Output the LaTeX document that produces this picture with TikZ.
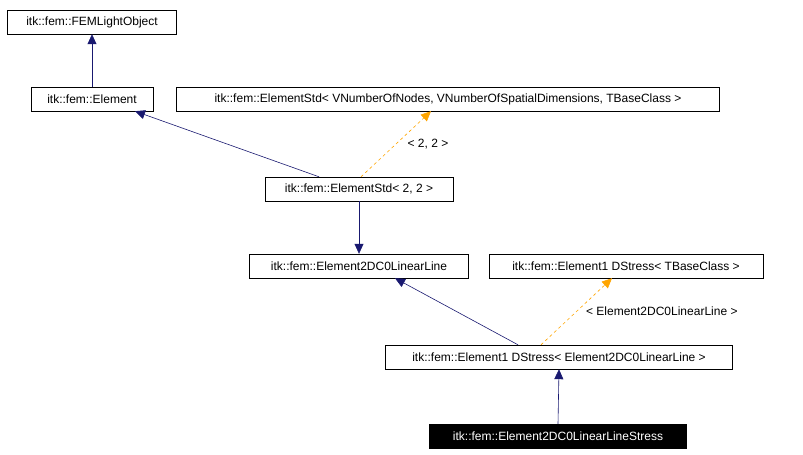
\documentclass[tikz,border=0pt]{standalone}
\usepackage{fontspec}
\setmainfont{Liberation Sans}
\usetikzlibrary{positioning,arrows.meta}
\definecolor{navy}{HTML}{191970}
\definecolor{tmplorange}{HTML}{FFA500}
\begin{document}
\begin{tikzpicture}[x=1pt,y=-1pt,
classnode/.style={rectangle, draw=black, fill=white, font=\fontsize{12}{14}\selectfont, minimum height=24pt, inner xsep=0pt},
leafnode/.style={classnode, fill=black, text=white},
inherit/.style={navy, semithick, -{Triangle[length=10pt,width=9pt]}},
tmpl/.style={tmplorange, semithick, dashed, -{Triangle[length=10pt,width=9pt]}},
lbl/.style={font=\fontsize{12}{14}\selectfont},
]
\useasboundingbox (0,0) rectangle (803,455);
%Nodes
\node[classnode, minimum width=169pt] (FEMLightObject)  at (92,22)  {itk::fem::FEMLightObject};
\node[classnode, minimum width=122pt] (Element)         at (92,99)  {itk::fem::Element};
\node[classnode, minimum width=543pt] (ElementStdT)     at (448,99) {itk::fem::ElementStd< VNumberOfNodes, VNumberOfSpatialDimensions, TBaseClass >};
\node[classnode, minimum width=188pt] (ElementStd22)    at (359,189) {itk::fem::ElementStd< 2, 2 >};
\node[classnode, minimum width=219pt] (LinearLine)      at (359,266) {itk::fem::Element2DC0LinearLine};
\node[classnode, minimum width=274pt] (StressT)         at (626,266) {itk::fem::Element1 DStress< TBaseClass >};
\node[classnode, minimum width=347pt] (StressLL)        at (559,357) {itk::fem::Element1 DStress< Element2DC0LinearLine >};
\node[leafnode, minimum width=257pt]  (LineStress)      at (558,436) {itk::fem::Element2DC0LinearLineStress};

%Lines
\draw[inherit] (Element.north) -- (FEMLightObject.south);
\draw[inherit] ([xshift=-40pt]ElementStd22.north) -- ([xshift=43pt]Element.south);
\draw[tmpl] ([xshift=2pt]ElementStd22.north) -- ([xshift=-17pt]ElementStdT.south) node[lbl, black, pos=0.5, right=8pt] {< 2, 2 >};
\draw[inherit] (ElementStd22.south) -- (LinearLine.north);
\draw[inherit] ([xshift=-41pt]StressLL.north) -- ([xshift=36pt]LinearLine.south);
\draw[tmpl] ([xshift=-18pt]StressLL.north) -- ([xshift=-14pt]StressT.south) node[lbl, black, pos=0.5, right=6pt] {< Element2DC0LinearLine >};
\draw[inherit] (LineStress.north) -- (StressLL.south);

\end{tikzpicture}
\end{document}
